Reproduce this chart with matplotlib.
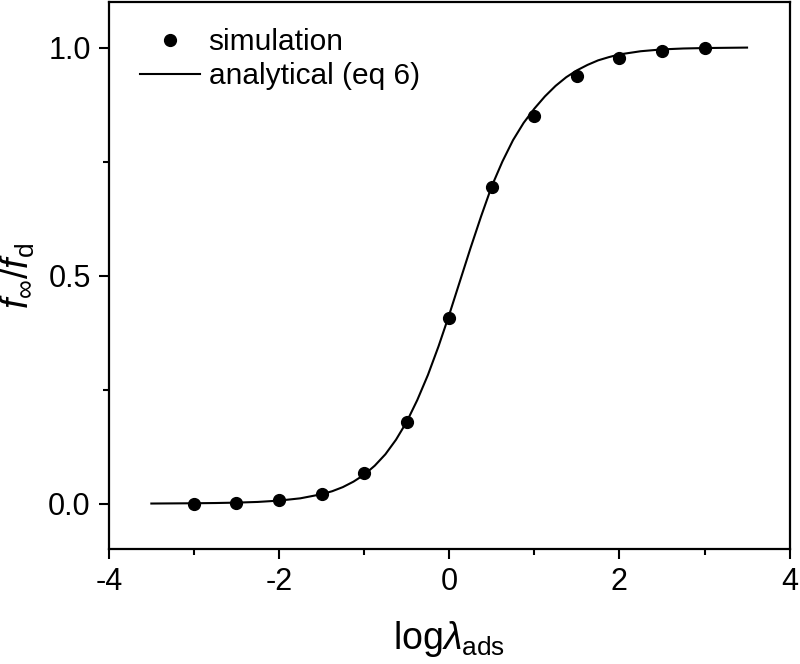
import numpy as np
import matplotlib
matplotlib.use("Agg")
import matplotlib.pyplot as plt
from matplotlib.ticker import MultipleLocator

plt.rcParams['font.family'] = ['Liberation Sans', 'DejaVu Sans']
plt.rcParams['mathtext.fontset'] = 'custom'
plt.rcParams['mathtext.rm'] = 'Liberation Sans'
plt.rcParams['mathtext.it'] = 'Liberation Sans:italic'

# --- simulation points ---
sim_x = [-3.0, -2.5, -2.0, -1.5, -1.0, -0.5, 0.0, 0.5, 1.0, 1.5, 2.0, 2.5, 3.0]
sim_y = [0.000, 0.002, 0.007, 0.020, 0.066, 0.179, 0.407, 0.695, 0.850, 0.937, 0.978, 0.993, 1.000]

# --- analytical curve (eq 6) ---
ana_x = [-3.5, -3.25, -3.0, -2.75, -2.5, -2.25, -2.0, -1.75,
         -1.5, -1.375, -1.25, -1.125, -1.0, -0.875, -0.75, -0.625,
         -0.5, -0.375, -0.25, -0.125, 0.0, 0.125, 0.25, 0.375,
         0.5, 0.625, 0.75, 0.875, 1.0, 1.125, 1.25, 1.375,
         1.5, 1.625, 1.75, 1.875, 2.0, 2.25, 2.5, 2.75, 3.0, 3.25, 3.5]
ana_y = [0.000, 0.0003, 0.0006, 0.0011, 0.002, 0.0035, 0.0064, 0.0114,
         0.0204, 0.027, 0.036, 0.048, 0.063, 0.083, 0.108, 0.140,
         0.179, 0.227, 0.282, 0.345, 0.414, 0.487, 0.560, 0.630,
         0.696, 0.750, 0.797, 0.835, 0.866, 0.893, 0.916, 0.935,
         0.950, 0.962, 0.972, 0.979, 0.985, 0.992, 0.996, 0.998, 0.999, 0.9995, 1.000]

fig = plt.figure(figsize=(8, 6.64), dpi=100)
ax = fig.add_axes([0.136, 0.173, 0.851, 0.824])

ax.plot(ana_x, ana_y, color='black', lw=1.5, label='analytical (eq 6)')
ax.plot(sim_x, sim_y, 'o', color='black', ms=8.5, label='simulation', zorder=3)

ax.set_xlim(-4, 4)
ax.set_ylim(-0.1, 1.1)
ax.xaxis.set_major_locator(MultipleLocator(2))
ax.xaxis.set_minor_locator(MultipleLocator(1))
ax.yaxis.set_major_locator(MultipleLocator(0.5))
ax.yaxis.set_minor_locator(MultipleLocator(0.25))
ax.xaxis.set_major_formatter(plt.FuncFormatter(lambda v, p: f"{v:g}"))
ax.yaxis.set_major_formatter(plt.FuncFormatter(lambda v, p: f"{v:.1f}"))

ax.tick_params(which='major', direction='out', length=7, width=1.5, labelsize=22, pad=6)
ax.tick_params(which='minor', direction='out', length=4, width=1.5)
for s in ax.spines.values():
    s.set_linewidth(1.6)

ax.set_xlabel(r'$\mathrm{log}\lambda_{\mathrm{ads}}$', fontsize=27, labelpad=16)
ax.set_ylabel(r'$f_{\infty}/f_{\mathrm{d}}$', fontsize=27, labelpad=8)

h, l = ax.get_legend_handles_labels()
ax.legend(h[::-1], l[::-1], loc='upper left', frameon=False, fontsize=21.5,
          handlelength=2.0, handletextpad=0.3, labelspacing=0.2,
          borderaxespad=0.3, bbox_to_anchor=(0.015, 0.99))

fig.savefig('out.png', dpi=100)
